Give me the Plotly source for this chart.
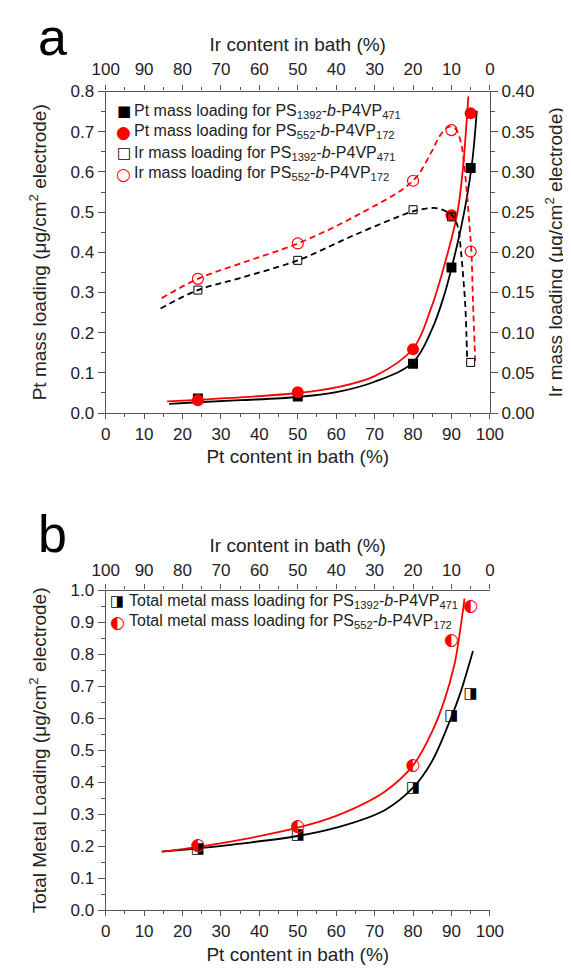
import plotly.graph_objects as go

W, H = 571, 970

# ---------------- data ----------------
pt_content = [24, 50, 80, 90, 95]
pt_load_ps1392 = [0.036, 0.041, 0.123, 0.362, 0.610]
pt_load_ps552 = [0.032, 0.052, 0.159, 0.492, 0.746]
ir_load_ps1392 = [0.153, 0.190, 0.253, 0.244, 0.063]
ir_load_ps552 = [0.167, 0.211, 0.289, 0.352, 0.201]
total_ps1392 = [0.192, 0.233, 0.380, 0.607, 0.674]
total_ps552 = [0.200, 0.262, 0.452, 0.843, 0.949]

# fitted / guide curves as drawn in the figure
fit_pt1392_x = [16.5, 24, 35, 50, 60, 70, 80, 85, 88, 90, 92, 93.7, 95.4, 96.6]
fit_pt1392_y = [0.023, 0.027, 0.032, 0.040, 0.052, 0.078, 0.126, 0.21, 0.29, 0.36, 0.44, 0.52, 0.625, 0.752]
fit_pt552_x = [16.0, 24, 35, 50, 60, 70, 80, 84.7, 88.5, 91.5, 92.9, 94.4]
fit_pt552_y = [0.029, 0.033, 0.039, 0.050, 0.064, 0.092, 0.160, 0.261, 0.38, 0.496, 0.60, 0.788]
guide_ir1392_x = [14.3, 24, 35, 50, 65, 80, 83, 86, 88.5, 90.4, 91.7, 92.5, 93.1, 93.6, 93.9, 94.1]
guide_ir1392_y = [0.130, 0.153, 0.168, 0.190, 0.222, 0.251, 0.254, 0.255, 0.251, 0.245, 0.231, 0.20, 0.167, 0.134, 0.097, 0.065]
guide_ir552_x = [14.6, 24, 35, 50, 65, 80, 84.7, 87, 89.2, 91, 92.5, 93.3, 94.1, 94.7, 95.2, 95.6, 96.2]
guide_ir552_y = [0.143, 0.167, 0.186, 0.211, 0.245, 0.289, 0.324, 0.345, 0.356, 0.354, 0.336, 0.309, 0.27, 0.233, 0.20, 0.139, 0.065]
fit_tot1392_x = [14.6, 24, 35, 50, 60, 72.5, 80, 84.9, 90.1, 92.3, 95.6]
fit_tot1392_y = [0.183, 0.193, 0.208, 0.232, 0.258, 0.312, 0.383, 0.465, 0.608, 0.679, 0.811]
fit_tot552_x = [14.6, 24, 35, 50, 60, 72.5, 80, 84.9, 88.2, 90.8, 92.1, 93.4]
fit_tot552_y = [0.183, 0.198, 0.220, 0.258, 0.295, 0.370, 0.453, 0.557, 0.658, 0.77, 0.862, 0.975]

legend_a = [
    ("■", "black", 15, "Pt mass loading for PS<sub>1392</sub>-<i>b</i>-P4VP<sub>471</sub>"),
    ("●", "red", 17, "Pt mass loading for PS<sub>552</sub>-<i>b</i>-P4VP<sub>172</sub>"),
    ("□", "black", 15, "Ir mass loading for PS<sub>1392</sub>-<i>b</i>-P4VP<sub>471</sub>"),
    ("○", "red", 17, "Ir mass loading for PS<sub>552</sub>-<i>b</i>-P4VP<sub>172</sub>"),
]
legend_b = [
    ("◨", "black", 15, "Total metal mass loading for PS<sub>1392</sub>-<i>b</i>-P4VP<sub>471</sub>"),
    ("◐", "red", 17, "Total metal mass loading for PS<sub>552</sub>-<i>b</i>-P4VP<sub>172</sub>"),
]

# ---------------- layout geometry (pixels) ----------------
XL, XR = 88, 492
A_TOP, A_BOT = 76, 404
B_TOP, B_BOT = 585, 911

def px_x(p):
    return p / W

def px_y(p):
    return 1 - p / H

RED = "#FF0000"
LINEC = "#555555"
FONT = "Liberation Sans, Arial, sans-serif"
TXT = "#222222"

fig = go.Figure()

# ---- panel a ----
fig.add_trace(go.Scatter(x=fit_pt1392_x, y=fit_pt1392_y, mode="lines", line=dict(color="black", width=1.8, shape="spline"),
                         xaxis="x", yaxis="y", showlegend=False, hoverinfo="skip"))
fig.add_trace(go.Scatter(x=fit_pt552_x, y=fit_pt552_y, mode="lines", line=dict(color=RED, width=1.8, shape="spline"),
                         xaxis="x", yaxis="y", showlegend=False, hoverinfo="skip"))
fig.add_trace(go.Scatter(x=guide_ir1392_x, y=guide_ir1392_y, mode="lines",
                         line=dict(color="black", width=1.8, dash="6px,4px", shape="spline"),
                         xaxis="x", yaxis="y2", showlegend=False, hoverinfo="skip"))
fig.add_trace(go.Scatter(x=guide_ir552_x, y=guide_ir552_y, mode="lines",
                         line=dict(color=RED, width=1.8, dash="6px,4px", shape="spline"),
                         xaxis="x", yaxis="y2", showlegend=False, hoverinfo="skip"))
fig.add_trace(go.Scatter(x=pt_content, y=ir_load_ps1392, mode="markers", name="Ir PS1392",
                         marker=dict(symbol="square-open", size=8, color="black", line=dict(width=1)),
                         xaxis="x", yaxis="y2", showlegend=False))
fig.add_trace(go.Scatter(x=pt_content, y=ir_load_ps552, mode="markers", name="Ir PS552",
                         marker=dict(symbol="circle-open", size=11, color=RED, line=dict(width=1.2)),
                         xaxis="x", yaxis="y2", showlegend=False))
fig.add_trace(go.Scatter(x=pt_content, y=pt_load_ps1392, mode="markers", name="Pt PS1392",
                         marker=dict(symbol="square", size=10, color="black"),
                         xaxis="x", yaxis="y", showlegend=False))
fig.add_trace(go.Scatter(x=pt_content, y=pt_load_ps552, mode="markers", name="Pt PS552",
                         marker=dict(symbol="circle", size=12, color=RED),
                         xaxis="x", yaxis="y", showlegend=False))
# dummy trace so the top (Ir) axis of panel a is drawn
fig.add_trace(go.Scatter(x=[None], y=[None], xaxis="x2", yaxis="y", showlegend=False, hoverinfo="skip"))

# ---- panel b ----
fig.add_trace(go.Scatter(x=fit_tot1392_x, y=fit_tot1392_y, mode="lines", line=dict(color="black", width=1.8, shape="spline"),
                         xaxis="x3", yaxis="y3", showlegend=False, hoverinfo="skip"))
fig.add_trace(go.Scatter(x=fit_tot552_x, y=fit_tot552_y, mode="lines", line=dict(color=RED, width=1.8, shape="spline"),
                         xaxis="x3", yaxis="y3", showlegend=False, hoverinfo="skip"))
fig.add_trace(go.Scatter(x=pt_content, y=total_ps1392, mode="text", text=["◨"] * len(pt_content),
                         textposition="middle center", textfont=dict(family="DejaVu Sans", size=15, color="black"),
                         xaxis="x3", yaxis="y3", showlegend=False, hoverinfo="x+y"))
fig.add_trace(go.Scatter(x=pt_content, y=total_ps552, mode="text", text=["◐"] * len(pt_content),
                         textposition="middle center", textfont=dict(family="DejaVu Sans", size=17, color=RED),
                         xaxis="x3", yaxis="y3", showlegend=False, hoverinfo="x+y"))
fig.add_trace(go.Scatter(x=[None], y=[None], xaxis="x4", yaxis="y3", showlegend=False, hoverinfo="skip"))


def axis(**kw):
    d = dict(showline=True, linecolor=LINEC, linewidth=1.3, ticks="outside", ticklen=7, tickwidth=1.3,
             tickcolor=LINEC, showgrid=False, zeroline=False,
             tickfont=dict(family=FONT, size=17, color=TXT))
    d.update(kw)
    return d


def ttl(text, standoff):
    return dict(text=text, font=dict(family=FONT, size=19, color=TXT), standoff=standoff)


minor_x = dict(ticks="outside", ticklen=3, tickwidth=1.2, tickcolor=LINEC, dtick=5, showgrid=False)

dom_x = [px_x(XL), px_x(XR)]
dom_a = [px_y(A_BOT), px_y(A_TOP)]
dom_b = [px_y(B_BOT), px_y(B_TOP)]

fig.update_layout(
    width=W, height=H, margin=dict(l=0, r=0, t=0, b=0),
    paper_bgcolor="white", plot_bgcolor="white", showlegend=False,
    font=dict(family=FONT, color=TXT),
    xaxis=axis(domain=dom_x, anchor="y", range=[0, 100], dtick=10, minor=minor_x, ticklen=5,
               title=ttl("Pt content in bath (%)", 7)),
    xaxis2=axis(overlaying="x", side="top", anchor="y", range=[100, 0], dtick=10, minor=minor_x, ticklen=5,
                ticklabelstandoff=4, title=ttl("Ir content in bath (%)", 2)),
    yaxis=axis(domain=dom_a, anchor="x", range=[0, 0.8], dtick=0.1, tickformat=".1f",
               minor=dict(ticks="outside", ticklen=4, tickwidth=1.2, tickcolor=LINEC, dtick=0.05, showgrid=False),
               title=ttl("Pt mass loading (μg/cm<sup>2</sup> electrode)", 18)),
    yaxis2=axis(overlaying="y", side="right", anchor="x", range=[0, 0.4], dtick=0.05, tickformat=".2f",
                minor=dict(ticks="outside", ticklen=4, tickwidth=1.2, tickcolor=LINEC, dtick=0.025, showgrid=False),
                title=ttl("Ir mass loading (μg/cm<sup>2</sup> electrode)", 15)),
    xaxis3=axis(domain=dom_x, anchor="y3", range=[0, 100], dtick=10, minor=minor_x, ticklen=5,
                title=ttl("Pt content in bath (%)", 7)),
    xaxis4=axis(overlaying="x3", side="top", anchor="y3", range=[100, 0], dtick=10, minor=minor_x, ticklen=5,
                ticklabelstandoff=2, title=ttl("Ir content in bath (%)", 2)),
    yaxis3=axis(domain=dom_b, anchor="x3", range=[0, 1.0], dtick=0.1, tickformat=".1f",
                minor=dict(ticks="outside", ticklen=4, tickwidth=1.2, tickcolor=LINEC, dtick=0.05, showgrid=False),
                title=ttl("Total Metal Loading (μg/cm<sup>2</sup> electrode)", 18)),
)

ann = []
ann.append(dict(text="a", x=px_x(32), y=px_y(20), xref="paper", yref="paper", showarrow=False,
                font=dict(family=FONT, size=52, color="black"), xanchor="center", yanchor="middle"))
ann.append(dict(text="b", x=px_x(32), y=px_y(527), xref="paper", yref="paper", showarrow=False,
                font=dict(family=FONT, size=52, color="black"), xanchor="center", yanchor="middle"))

rows_a = [96, 117, 139, 160]
for (g, c, s, t), ry in zip(legend_a, rows_a):
    ann.append(dict(text=g, x=px_x(107), y=px_y(ry), xref="paper", yref="paper", showarrow=False,
                    font=dict(family="DejaVu Sans", size=s, color=c), xanchor="center", yanchor="middle"))
    ann.append(dict(text=t, x=px_x(116), y=px_y(ry), xref="paper", yref="paper", showarrow=False,
                    font=dict(family=FONT, size=16, color=TXT), xanchor="left", yanchor="middle"))

rows_b = [596, 617]
for (g, c, s, t), ry in zip(legend_b, rows_b):
    ann.append(dict(text=g, x=px_x(100), y=px_y(ry), xref="paper", yref="paper", showarrow=False,
                    font=dict(family="DejaVu Sans", size=s, color=c), xanchor="center", yanchor="middle"))
    ann.append(dict(text=t, x=px_x(110), y=px_y(ry), xref="paper", yref="paper", showarrow=False,
                    font=dict(family=FONT, size=16, color=TXT), xanchor="left", yanchor="middle"))

fig.update_layout(annotations=ann)

fig.write_html("out.html")
